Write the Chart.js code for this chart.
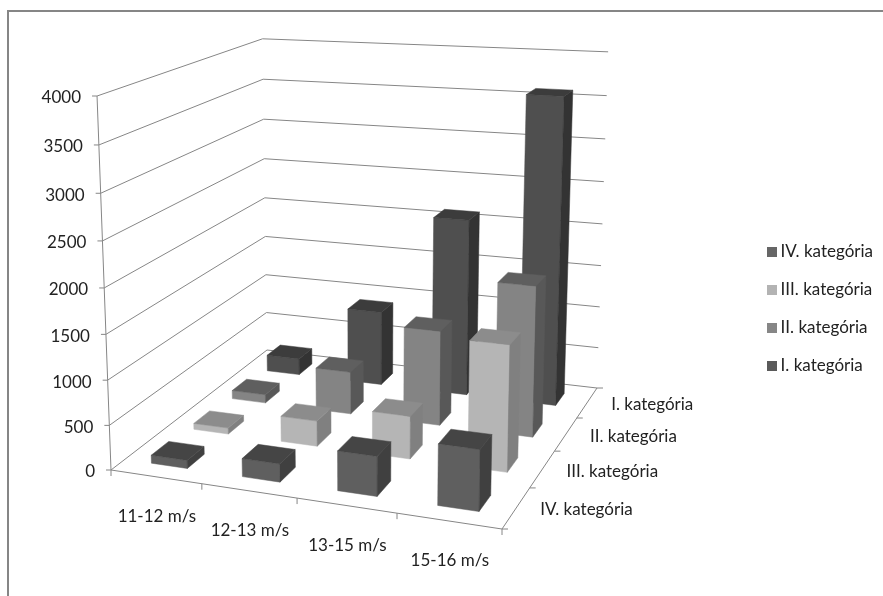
<!DOCTYPE html>
<html>
<head>
<meta charset="utf-8">
<title>Kategóriák szélsebesség szerint</title>
<style>
  html, body { margin: 0; padding: 0; background: #fff; }
  canvas { display: block; }
</style>
<script src="https://cdn.jsdelivr.net/npm/chart.js@4"></script>
</head>
<body>
<canvas id="chart" width="883" height="596"></canvas>
<script>
const categories = ['11-12 m/s', '12-13 m/s', '13-15 m/s', '15-16 m/s'];
const seriesNames = ['IV. kategória', 'III. kategória', 'II. kategória', 'I. kategória'];
const categoryIV = [90, 200, 430, 650];
const categoryIII = [70, 290, 480, 1390];
const categoryII = [100, 500, 1100, 1720];
const categoryI = [200, 900, 2110, 3600];
const seriesValues = [categoryIV, categoryIII, categoryII, categoryI];

// front, top and side shades of each series' columns
const frontColors = ['#5f5f5f', '#b5b5b5', '#848484', '#4f4f4f'];
const topColors = ['#454545', '#8c8c8c', '#5f5f5f', '#3c3c3c'];
const sideColors = ['#404040', '#808080', '#585858', '#333333'];
const legendColors = ['#666666', '#b3b3b3', '#868686', '#5a5a5a'];

const FONT = { family: 'Lato', size: 17 };
const TEXT_COLOR = '#222222';
const LINE_COLOR = '#868686';
const COLUMN_FRACTION = 0.4;

// Perspective box: floor corners, the top of the value axis and the vertical vanishing point.
const floorCorners = [[111, 470], [502, 529], [597, 388], [267, 350]];
const axisTopY = 96;
const verticalVanish = [367, 7325];

const [p0, p1, p2, p3] = floorCorners;
const dx1 = p1[0] - p2[0], dx2 = p3[0] - p2[0], sx = p0[0] - p1[0] + p2[0] - p3[0];
const dy1 = p1[1] - p2[1], dy2 = p3[1] - p2[1], sy = p0[1] - p1[1] + p2[1] - p3[1];
const den = dx1 * dy2 - dx2 * dy1;
const wu = (sx * dy2 - dx2 * sy) / den;
const wv = (dx1 * sy - sx * dy1) / den;
const wh = (axisTopY - p0[1]) / (verticalVanish[1] - axisTopY);

// Maps (along categories, into depth, up the value axis), each 0..1, to canvas pixels.
function project(u, v, h) {
  const w = wu * u + wv * v + 1 + wh * h;
  const x = (p1[0] - p0[0] + wu * p1[0]) * u + (p3[0] - p0[0] + wv * p3[0]) * v + p0[0] + wh * h * verticalVanish[0];
  const y = (p1[1] - p0[1] + wu * p1[1]) * u + (p3[1] - p0[1] + wv * p3[1]) * v + p0[1] + wh * h * verticalVanish[1];
  return [x / w, y / w];
}

function polygon(ctx, points, fill) {
  ctx.beginPath();
  points.forEach((p, i) => (i ? ctx.lineTo(p[0], p[1]) : ctx.moveTo(p[0], p[1])));
  ctx.closePath();
  ctx.fillStyle = fill;
  ctx.strokeStyle = fill;
  ctx.lineWidth = 0.5;
  ctx.fill();
  ctx.stroke();
}

function polyline(ctx, points) {
  ctx.beginPath();
  points.forEach((p, i) => (i ? ctx.lineTo(p[0], p[1]) : ctx.moveTo(p[0], p[1])));
  ctx.stroke();
}

const scaleFraction = (scale, value) => (scale.getPixelForValue(value) - scale.left) / scale.width;

// Square legend swatch, drawn as an image so the gap before the text stays narrow.
function swatch(color) {
  const c = document.createElement('canvas');
  c.width = 10;
  c.height = 10;
  const g = c.getContext('2d');
  g.fillStyle = color;
  g.fillRect(0, 0, 10, 10);
  return c;
}

// Bar controller that paints each column as a box inside the perspective frame.
class Bar3dController extends Chart.BarController {
  draw() {
    const { ctx, scales } = this.chart;
    const meta = this._cachedMeta;
    const s = this.index;
    const halfU = COLUMN_FRACTION / scales.x.getLabels().length / 2;
    const halfV = COLUMN_FRACTION / scales.depth.getLabels().length / 2;
    const vc = scaleFraction(scales.depth, s);
    ctx.save();
    meta.data.forEach((el, i) => {
      const uc = scaleFraction(scales.x, i);
      const h = scales.y.getDecimalForPixel(scales.y.getPixelForValue(this.getParsed(i).y));
      const u0 = uc - halfU, u1 = uc + halfU, v0 = vc - halfV, v1 = vc + halfV;
      polygon(ctx, [project(u0, v0, 0), project(u1, v0, 0), project(u1, v0, h), project(u0, v0, h)], frontColors[s]);
      polygon(ctx, [project(u1, v0, 0), project(u1, v1, 0), project(u1, v1, h), project(u1, v0, h)], sideColors[s]);
      polygon(ctx, [project(u0, v0, h), project(u1, v0, h), project(u1, v1, h), project(u0, v1, h)], topColors[s]);
    });
    ctx.restore();
  }
}
Bar3dController.id = 'bar3d';
Bar3dController.defaults = Chart.BarController.defaults;
Bar3dController.overrides = Chart.BarController.overrides;
Chart.register(Bar3dController);

// Walls, floor, axes and their labels, all placed by the perspective frame.
const frame3d = {
  id: 'frame3d',
  beforeDatasetsDraw(chart) {
    const { ctx, scales } = chart;
    ctx.save();
    ctx.strokeStyle = LINE_COLOR;
    ctx.lineWidth = 2;
    polyline(ctx, [[8, 596], [8, 11], [883, 11]]);

    ctx.lineWidth = 1;
    ctx.font = `${FONT.size}px ${FONT.family}`;
    ctx.fillStyle = TEXT_COLOR;

    scales.y.ticks.forEach((tick) => {
      const h = scales.y.getDecimalForPixel(scales.y.getPixelForValue(tick.value));
      const a = project(0, 0, h);
      polyline(ctx, [[a[0] - 5, a[1]], a, project(0, 1, h), project(1, 1, h)]);
      ctx.textAlign = 'right';
      ctx.textBaseline = 'middle';
      ctx.fillText(tick.label, a[0] - 16, a[1] + 2);
    });
    polyline(ctx, [project(0, 0, 0), project(0, 0, 1)]);
    polyline(ctx, [project(0, 0, 0), project(1, 0, 0), project(1, 1, 0)]);

    const nu = scales.x.getLabels().length;
    for (let i = 0; i <= nu; i++) {
      const a = project(i / nu, 0, 0);
      polyline(ctx, [a, [a[0], a[1] + 6]]);
    }
    const nv = scales.depth.getLabels().length;
    for (let i = 0; i <= nv; i++) {
      const a = project(1, i / nv, 0);
      polyline(ctx, [a, [a[0] + 6, a[1]]]);
    }

    ctx.textBaseline = 'middle';
    ctx.textAlign = 'center';
    scales.x.getLabels().forEach((label, i) => {
      const a = project(scaleFraction(scales.x, i), 0, 0);
      ctx.fillText(label, a[0] + 1, a[1] + 40);
    });
    ctx.textAlign = 'left';
    scales.depth.getLabels().forEach((label, i) => {
      const a = project(1, scaleFraction(scales.depth, i), 0);
      ctx.fillText(label, a[0] + 24, a[1] + 2);
    });
    ctx.restore();
  }
};

new Chart(document.getElementById('chart'), {
  type: 'bar3d',
  plugins: [frame3d],
  data: {
    labels: categories,
    datasets: seriesNames.map((name, i) => ({
      label: name,
      data: seriesValues[i],
      backgroundColor: legendColors[i],
      borderWidth: 0,
      clip: false
    }))
  },
  options: {
    responsive: false,
    animation: false,
    layout: { padding: { top: 21, right: 0 } },
    plugins: {
      tooltip: { enabled: false },
      legend: {
        position: 'right',
        labels: {
          color: TEXT_COLOR,
          font: FONT,
          usePointStyle: true,
          boxWidth: 1,
          boxHeight: 10,
          padding: 21,
          generateLabels(chart) {
            const base = Chart.defaults.plugins.legend.labels.generateLabels(chart);
            return base.map((item, i) => ({ ...item, pointStyle: swatch(legendColors[i]) }));
          }
        }
      }
    },
    scales: {
      x: { type: 'category', offset: true, display: false },
      depth: { type: 'category', axis: 'x', offset: true, display: false, labels: seriesNames },
      y: {
        type: 'linear', min: 0, max: 4000, display: false,
        ticks: { stepSize: 500, callback: (value) => String(value) }
      }
    }
  }
});
</script>
</body>
</html>
